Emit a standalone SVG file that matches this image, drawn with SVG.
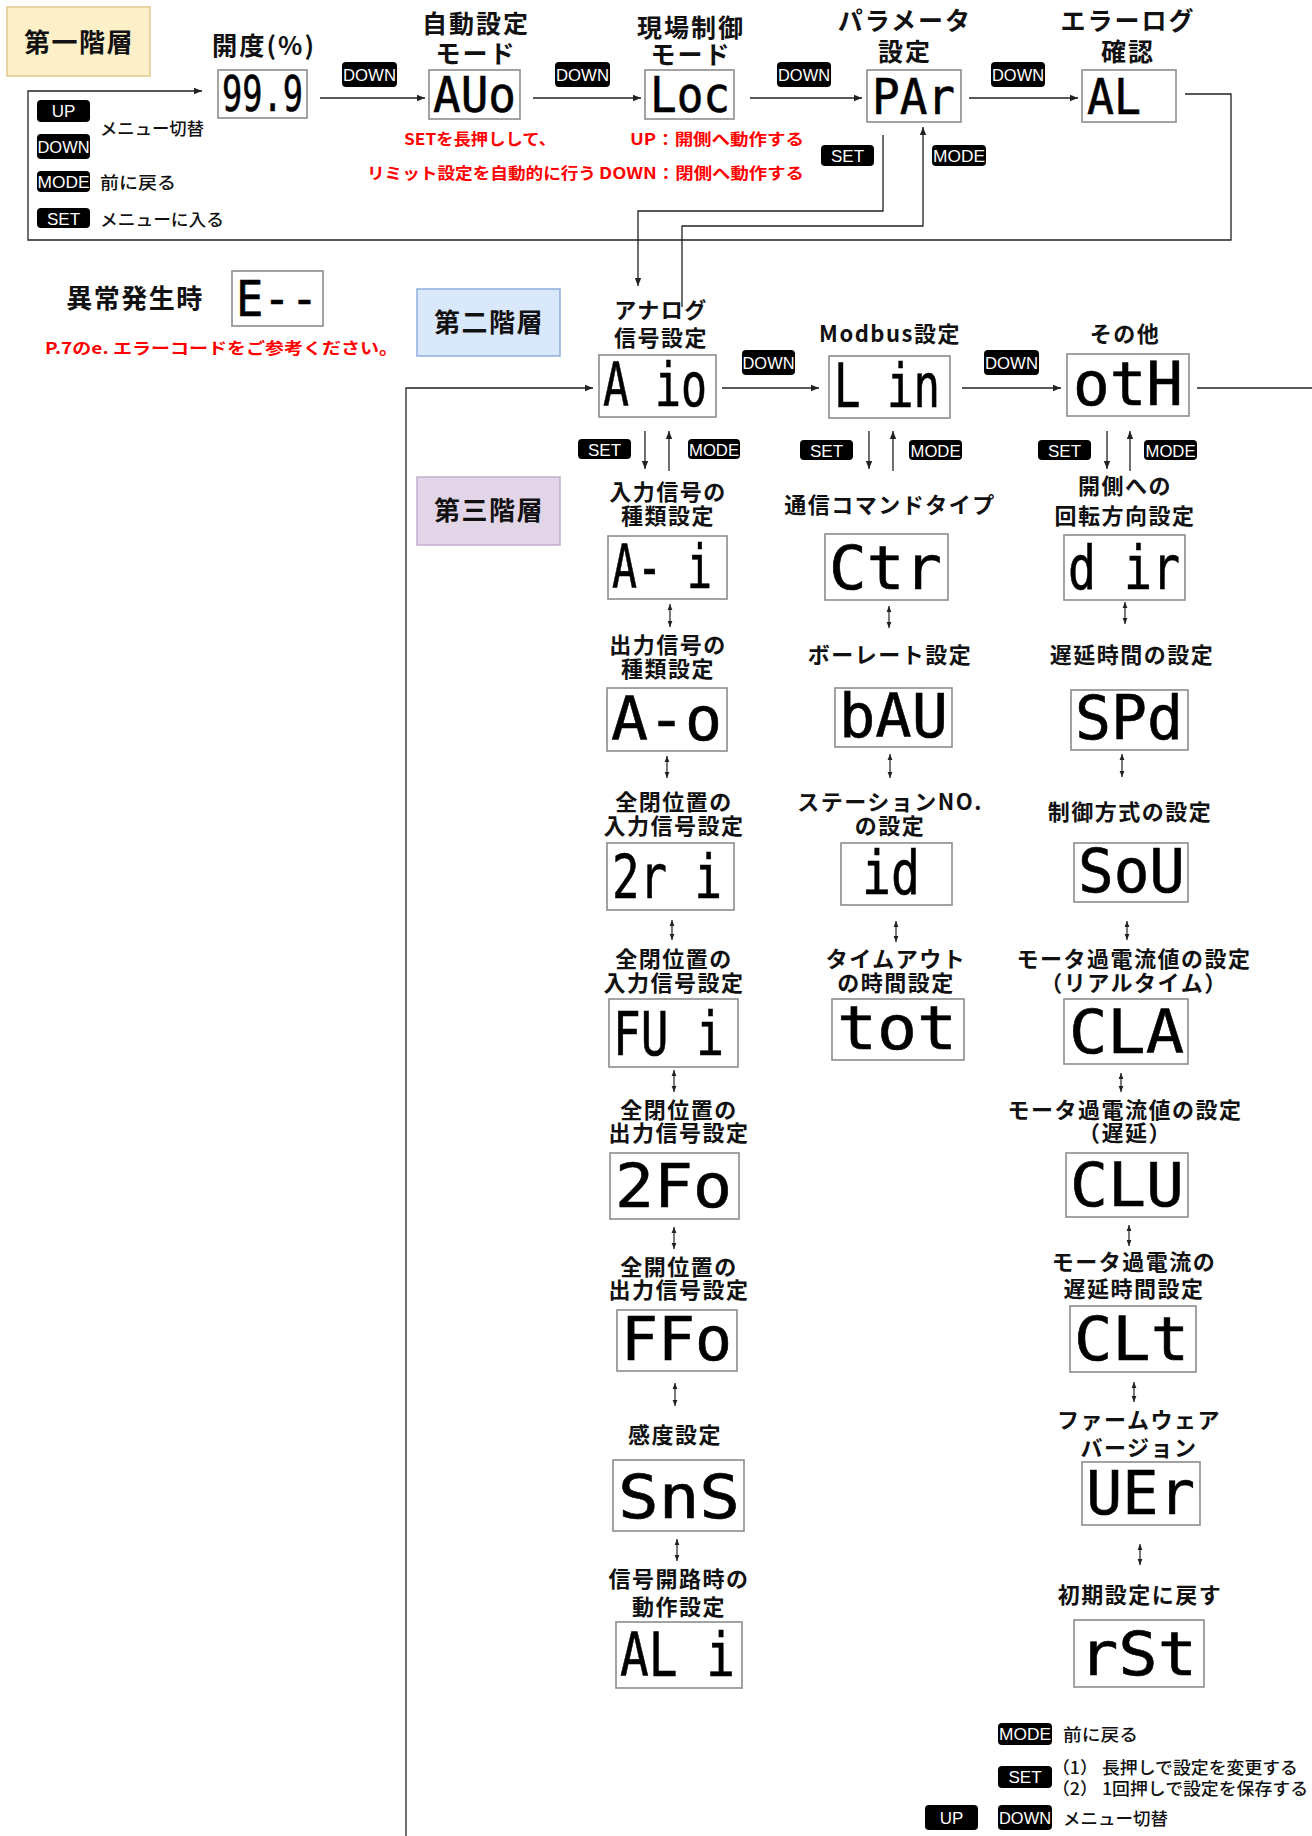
<svg xmlns="http://www.w3.org/2000/svg" width="1312" height="1836" viewBox="0 0 1312 1836">
<style>
.lbl{font-family:"Noto Sans CJK JP","Noto Sans",sans-serif;font-weight:700;font-size:22px;fill:#111;text-anchor:middle;letter-spacing:1.5px}
.top{font-size:25px;letter-spacing:2px}
.hdr{font-family:"Noto Sans CJK JP",sans-serif;font-weight:700;font-size:26px;fill:#111;text-anchor:middle;letter-spacing:1.5px}
.lcd{fill:#fff;stroke:#8c8c8c;stroke-width:1.6}
.seg{font-family:"DejaVu Sans Mono",monospace;font-weight:400;font-size:60px;fill:#000;stroke:#000;stroke-width:0.6}
.segs{font-size:50px}
.btn{fill:#000}
.bt{font-family:"Liberation Sans",Arial,sans-serif;font-size:17px;fill:#fff;text-anchor:middle}
.red{font-family:"Noto Sans CJK JP",sans-serif;font-weight:700;font-size:16px;fill:#ff0000}
.leg{font-family:"Noto Sans CJK JP",sans-serif;font-weight:500;font-size:17px;fill:#111}
.ln{fill:none;stroke:#222;stroke-width:1.3}
.dbl{fill:none;stroke:#222;stroke-width:1.2}
</style>
<defs>
<marker id="ah" viewBox="0 0 10 10" refX="10" refY="5" markerWidth="9" markerHeight="8" markerUnits="userSpaceOnUse" orient="auto-start-reverse"><path d="M0,1 L10,5 L0,9 z" fill="#222"/></marker>
<marker id="ah2" viewBox="0 0 10 10" refX="10" refY="5" markerWidth="6" markerHeight="6" markerUnits="userSpaceOnUse" orient="auto-start-reverse"><path d="M0,1 L10,5 L0,9 z" fill="#222"/></marker>
</defs>
<rect width="1312" height="1836" fill="#fff"/>

<!-- level headers -->
<g id="hdr1"><rect x="7" y="7" width="143" height="69" fill="#fdf0c9" stroke="#e3c88e" stroke-width="1.5"/><text class="hdr" x="79" y="52">第一階層</text></g>
<g id="hdr2"><rect x="417" y="289" width="143" height="67" fill="#dae8fc" stroke="#8faedc" stroke-width="1.5"/><text class="hdr" x="489" y="332">第二階層</text></g>
<g id="hdr3"><rect x="417" y="477" width="143" height="68" fill="#e3d5e8" stroke="#c2aed0" stroke-width="1.5"/><text class="hdr" x="489" y="520">第三階層</text></g>

<!-- connectors -->
<g id="connectors">
<path class="ln" d="M1185,94 H1231 V240 H28 V91 H202" marker-end="url(#ah)"/>
<path class="ln" d="M320,98 H425" marker-end="url(#ah)"/>
<path class="ln" d="M533,98 H641" marker-end="url(#ah)"/>
<path class="ln" d="M750,98 H862" marker-end="url(#ah)"/>
<path class="ln" d="M969,98 H1078" marker-end="url(#ah)"/>
<path class="ln" d="M883,135 V211 H638 V286" marker-end="url(#ah)"/>
<path class="ln" d="M682,307 V226 H923 V127" marker-end="url(#ah)"/>
<path class="ln" d="M406,1836 V388 H593" marker-end="url(#ah)"/>
<path class="ln" d="M722,388 H819" marker-end="url(#ah)"/>
<path class="ln" d="M962,388 H1061" marker-end="url(#ah)"/>
<path class="ln" d="M1197,388 H1312"/>
<path class="ln" d="M645,431 V469" marker-end="url(#ah)"/>
<path class="ln" d="M669,471 V431" marker-end="url(#ah)"/>
<path class="ln" d="M869,431 V469" marker-end="url(#ah)"/>
<path class="ln" d="M893,471 V431" marker-end="url(#ah)"/>
<path class="ln" d="M1107,431 V469" marker-end="url(#ah)"/>
<path class="ln" d="M1130,471 V431" marker-end="url(#ah)"/>
<path class="dbl" d="M670,604 V627" marker-start="url(#ah2)" marker-end="url(#ah2)"/>
<path class="dbl" d="M667,756 V778" marker-start="url(#ah2)" marker-end="url(#ah2)"/>
<path class="dbl" d="M672,920 V940" marker-start="url(#ah2)" marker-end="url(#ah2)"/>
<path class="dbl" d="M674,1070 V1092" marker-start="url(#ah2)" marker-end="url(#ah2)"/>
<path class="dbl" d="M674,1227 V1249" marker-start="url(#ah2)" marker-end="url(#ah2)"/>
<path class="dbl" d="M675,1383 V1406" marker-start="url(#ah2)" marker-end="url(#ah2)"/>
<path class="dbl" d="M677,1539 V1561" marker-start="url(#ah2)" marker-end="url(#ah2)"/>
<path class="dbl" d="M889,606 V628" marker-start="url(#ah2)" marker-end="url(#ah2)"/>
<path class="dbl" d="M890,754 V778" marker-start="url(#ah2)" marker-end="url(#ah2)"/>
<path class="dbl" d="M896,921 V942" marker-start="url(#ah2)" marker-end="url(#ah2)"/>
<path class="dbl" d="M1125,602 V624" marker-start="url(#ah2)" marker-end="url(#ah2)"/>
<path class="dbl" d="M1122,754 V777" marker-start="url(#ah2)" marker-end="url(#ah2)"/>
<path class="dbl" d="M1127,921 V940" marker-start="url(#ah2)" marker-end="url(#ah2)"/>
<path class="dbl" d="M1121,1073 V1092" marker-start="url(#ah2)" marker-end="url(#ah2)"/>
<path class="dbl" d="M1129,1225 V1246" marker-start="url(#ah2)" marker-end="url(#ah2)"/>
<path class="dbl" d="M1134,1382 V1402" marker-start="url(#ah2)" marker-end="url(#ah2)"/>
<path class="dbl" d="M1140,1544 V1565" marker-start="url(#ah2)" marker-end="url(#ah2)"/>
</g>

<!-- button labels -->
<g id="buttons">
<rect class="btn" x="342" y="62" width="55" height="25" rx="4"/><text class="bt" x="369.5" y="81" textLength="53" lengthAdjust="spacingAndGlyphs">DOWN</text>
<rect class="btn" x="555" y="62" width="55" height="25" rx="4"/><text class="bt" x="582.5" y="81" textLength="53" lengthAdjust="spacingAndGlyphs">DOWN</text>
<rect class="btn" x="777" y="62" width="54" height="25" rx="4"/><text class="bt" x="804" y="81" textLength="52" lengthAdjust="spacingAndGlyphs">DOWN</text>
<rect class="btn" x="991" y="62" width="54" height="25" rx="4"/><text class="bt" x="1018" y="81" textLength="52" lengthAdjust="spacingAndGlyphs">DOWN</text>
<rect class="btn" x="821" y="145" width="53" height="21" rx="4"/><text class="bt" x="847.5" y="162">SET</text>
<rect class="btn" x="932" y="145" width="54" height="21" rx="4"/><text class="bt" x="959" y="162" textLength="52" lengthAdjust="spacingAndGlyphs">MODE</text>
<rect class="btn" x="742" y="350" width="53" height="25" rx="4"/><text class="bt" x="768.5" y="369" textLength="52" lengthAdjust="spacingAndGlyphs">DOWN</text>
<rect class="btn" x="984" y="350" width="55" height="25" rx="4"/><text class="bt" x="1011.5" y="369" textLength="53" lengthAdjust="spacingAndGlyphs">DOWN</text>
<rect class="btn" x="578" y="439" width="53" height="20" rx="4"/><text class="bt" x="604.5" y="455.5">SET</text>
<rect class="btn" x="688" y="439" width="52" height="20" rx="4"/><text class="bt" x="714" y="455.5" textLength="50" lengthAdjust="spacingAndGlyphs">MODE</text>
<rect class="btn" x="800" y="440" width="53" height="20" rx="4"/><text class="bt" x="826.5" y="456.5">SET</text>
<rect class="btn" x="909" y="440" width="53" height="20" rx="4"/><text class="bt" x="935.5" y="456.5" textLength="50" lengthAdjust="spacingAndGlyphs">MODE</text>
<rect class="btn" x="1038" y="440" width="53" height="20" rx="4"/><text class="bt" x="1064.5" y="456.5">SET</text>
<rect class="btn" x="1144" y="440" width="53" height="20" rx="4"/><text class="bt" x="1170.5" y="456.5" textLength="50" lengthAdjust="spacingAndGlyphs">MODE</text>
</g>

<!-- legend top -->
<g id="legend1">
<rect class="btn" x="37" y="100" width="53" height="22" rx="4"/><text class="bt" x="63.5" y="117">UP</text>
<rect class="btn" x="37" y="134" width="53" height="25" rx="4"/><text class="bt" x="63.5" y="153" textLength="52" lengthAdjust="spacingAndGlyphs">DOWN</text>
<text class="leg" x="100" y="135" textLength="104" lengthAdjust="spacingAndGlyphs">メニュー切替</text>
<rect class="btn" x="37" y="171" width="53" height="21" rx="4"/><text class="bt" x="63.5" y="188" textLength="52" lengthAdjust="spacingAndGlyphs">MODE</text>
<text class="leg" x="100" y="189" textLength="76" lengthAdjust="spacingAndGlyphs">前に戻る</text>
<rect class="btn" x="37" y="208" width="53" height="20" rx="4"/><text class="bt" x="63.5" y="224.5">SET</text>
<text class="leg" x="100" y="226" textLength="124" lengthAdjust="spacingAndGlyphs">メニューに入る</text>
</g>

<!-- level 1 nodes -->
<g id="n_open">
<text class="lbl top" x="264" y="55" textLength="104" lengthAdjust="spacingAndGlyphs">開度(%)</text>
<rect class="lcd" x="218" y="70" width="89" height="48"/>
<text class="seg segs" x="222" y="111" textLength="81" lengthAdjust="spacingAndGlyphs">99.9</text>
</g>
<g id="n_auo">
<text class="lbl top" x="476"><tspan x="476" y="33">自動設定</tspan><tspan x="476" y="63">モード</tspan></text>
<rect class="lcd" x="429" y="70" width="91" height="49"/>
<text class="seg segs" x="433" y="112" textLength="83" lengthAdjust="spacingAndGlyphs">AUo</text>
<text class="red" x="480" y="145" text-anchor="middle" textLength="152" lengthAdjust="spacingAndGlyphs">SETを長押しして、</text>
<text class="red" x="367" y="179" textLength="229" lengthAdjust="spacingAndGlyphs">リミット設定を自動的に行う</text>
</g>
<g id="n_loc">
<text class="lbl top" x="691"><tspan x="691" y="37">現場制御</tspan><tspan x="691" y="64">モード</tspan></text>
<rect class="lcd" x="645" y="70" width="89" height="49"/>
<text class="seg segs" x="650" y="112" textLength="80" lengthAdjust="spacingAndGlyphs">Loc</text>
<text class="red" x="804" y="145" text-anchor="end" textLength="174" lengthAdjust="spacingAndGlyphs">UP：開側へ動作する</text>
<text class="red" x="804" y="179" text-anchor="end" textLength="205" lengthAdjust="spacingAndGlyphs">DOWN：閉側へ動作する</text>
</g>
<g id="n_par">
<text class="lbl top" x="905"><tspan x="905" y="30">パラメータ</tspan><tspan x="905" y="61">設定</tspan></text>
<rect class="lcd" x="867" y="70" width="94" height="52"/>
<text class="seg segs" x="872" y="114" textLength="83" lengthAdjust="spacingAndGlyphs">PAr</text>
</g>
<g id="n_al">
<text class="lbl top" x="1128"><tspan x="1128" y="30">エラーログ</tspan><tspan x="1128" y="61">確認</tspan></text>
<rect class="lcd" x="1082" y="70" width="94" height="52"/>
<text class="seg segs" x="1087" y="114" textLength="54" lengthAdjust="spacingAndGlyphs">AL</text>
</g>

<!-- error -->
<g id="n_err">
<text class="hdr" x="135" y="308" letter-spacing="2">異常発生時</text>
<rect class="lcd" x="232" y="271" width="91" height="55"/>
<text class="seg segs" x="236" y="316" textLength="82" lengthAdjust="spacingAndGlyphs">E--</text>
<text class="red" x="45" y="354" font-size="17" textLength="353" lengthAdjust="spacingAndGlyphs">P.7のe. エラーコードをご参考ください。</text>
</g>

<!-- level 2 nodes -->
<g id="n_aio">
<text class="lbl" x="661"><tspan x="661" y="318">アナログ</tspan><tspan x="661" y="346">信号設定</tspan></text>
<rect class="lcd" x="599" y="355" width="117" height="62"/>
<text class="seg" x="603" y="406" textLength="104" lengthAdjust="spacingAndGlyphs">A io</text>
</g>
<g id="n_lin">
<text class="lbl" x="890" y="342">Modbus設定</text>
<rect class="lcd" x="829" y="356" width="121" height="62"/>
<text class="seg" x="834" y="407" textLength="106" lengthAdjust="spacingAndGlyphs">L in</text>
</g>
<g id="n_oth">
<text class="lbl" x="1125" y="342">その他</text>
<rect class="lcd" x="1067" y="354" width="122" height="62"/>
<text class="seg" x="1073" y="405" textLength="110" lengthAdjust="spacingAndGlyphs">otH</text>
</g>

<!-- level 3 column 1 -->
<g id="n_ai">
<text class="lbl" x="668"><tspan x="668" y="500">入力信号の</tspan><tspan x="668" y="524">種類設定</tspan></text>
<rect class="lcd" x="608" y="536" width="119" height="63"/>
<text class="seg" x="612" y="588" textLength="100" lengthAdjust="spacingAndGlyphs">A- i</text>
</g>
<g id="n_ao">
<text class="lbl" x="668"><tspan x="668" y="653">出力信号の</tspan><tspan x="668" y="677">種類設定</tspan></text>
<rect class="lcd" x="607" y="688" width="120" height="63"/>
<text class="seg" x="611" y="740" textLength="111" lengthAdjust="spacingAndGlyphs">A-o</text>
</g>
<g id="n_2ri">
<text class="lbl" x="674"><tspan x="674" y="810">全閉位置の</tspan><tspan x="674" y="834">入力信号設定</tspan></text>
<rect class="lcd" x="607" y="843" width="127" height="67"/>
<text class="seg" x="612" y="898" textLength="110" lengthAdjust="spacingAndGlyphs">2r i</text>
</g>
<g id="n_fui">
<text class="lbl" x="674"><tspan x="674" y="967">全閉位置の</tspan><tspan x="674" y="991">入力信号設定</tspan></text>
<rect class="lcd" x="609" y="999" width="129" height="68"/>
<text class="seg" x="613" y="1055" textLength="111" lengthAdjust="spacingAndGlyphs">FU i</text>
</g>
<g id="n_2fo">
<text class="lbl" x="679"><tspan x="679" y="1118">全閉位置の</tspan><tspan x="679" y="1141">出力信号設定</tspan></text>
<rect class="lcd" x="610" y="1153" width="129" height="66"/>
<text class="seg" x="615" y="1207" textLength="117" lengthAdjust="spacingAndGlyphs">2Fo</text>
</g>
<g id="n_ffo">
<text class="lbl" x="679"><tspan x="679" y="1275">全開位置の</tspan><tspan x="679" y="1298">出力信号設定</tspan></text>
<rect class="lcd" x="617" y="1310" width="120" height="61"/>
<text class="seg" x="621" y="1360" textLength="111" lengthAdjust="spacingAndGlyphs">FFo</text>
</g>
<g id="n_sns">
<text class="lbl" x="675" y="1443">感度設定</text>
<rect class="lcd" x="613" y="1460" width="131" height="71"/>
<text class="seg" x="618" y="1518" textLength="122" lengthAdjust="spacingAndGlyphs">SnS</text>
</g>
<g id="n_ali">
<text class="lbl" x="679"><tspan x="679" y="1587">信号開路時の</tspan><tspan x="679" y="1615">動作設定</tspan></text>
<rect class="lcd" x="616" y="1622" width="126" height="66"/>
<text class="seg" x="620" y="1676" textLength="115" lengthAdjust="spacingAndGlyphs">AL i</text>
</g>

<!-- level 3 column 2 -->
<g id="n_ctr">
<text class="lbl" x="890" y="513" letter-spacing="0.5">通信コマンドタイプ</text>
<rect class="lcd" x="825" y="534" width="123" height="66"/>
<text class="seg" x="829" y="589" textLength="113" lengthAdjust="spacingAndGlyphs">Ctr</text>
</g>
<g id="n_bau">
<text class="lbl" x="890" y="663" letter-spacing="0.5">ボーレート設定</text>
<rect class="lcd" x="835" y="688" width="117" height="59"/>
<text class="seg" x="839" y="737" textLength="109" lengthAdjust="spacingAndGlyphs">bAU</text>
</g>
<g id="n_id">
<text class="lbl" x="890" letter-spacing="0.5"><tspan x="890" y="810">ステーションNO.</tspan><tspan x="890" y="834">の設定</tspan></text>
<rect class="lcd" x="841" y="843" width="111" height="62"/>
<text class="seg" x="862" y="894" textLength="58" lengthAdjust="spacingAndGlyphs">id</text>
</g>
<g id="n_tot">
<text class="lbl" x="896" letter-spacing="0.5"><tspan x="896" y="967">タイムアウト</tspan><tspan x="896" y="991">の時間設定</tspan></text>
<rect class="lcd" x="832" y="999" width="132" height="61"/>
<text class="seg" x="837" y="1049" textLength="120" lengthAdjust="spacingAndGlyphs">tot</text>
</g>

<!-- level 3 column 3 -->
<g id="n_dir">
<text class="lbl" x="1125"><tspan x="1125" y="494">開側への</tspan><tspan x="1125" y="524">回転方向設定</tspan></text>
<rect class="lcd" x="1064" y="535" width="121" height="65"/>
<text class="seg" x="1068" y="589" textLength="112" lengthAdjust="spacingAndGlyphs">d ir</text>
</g>
<g id="n_spd">
<text class="lbl" x="1132" y="663">遅延時間の設定</text>
<rect class="lcd" x="1071" y="690" width="117" height="60"/>
<text class="seg" x="1075" y="739" textLength="108" lengthAdjust="spacingAndGlyphs">SPd</text>
</g>
<g id="n_sou">
<text class="lbl" x="1130" y="820">制御方式の設定</text>
<rect class="lcd" x="1074" y="843" width="114" height="59"/>
<text class="seg" x="1078" y="892" textLength="107" lengthAdjust="spacingAndGlyphs">SoU</text>
</g>
<g id="n_cla">
<text class="lbl" x="1134" letter-spacing="0.5"><tspan x="1134" y="967">モータ過電流値の設定</tspan><tspan x="1134" y="991">（リアルタイム）</tspan></text>
<rect class="lcd" x="1064" y="999" width="124" height="65"/>
<text class="seg" x="1069" y="1053" textLength="115" lengthAdjust="spacingAndGlyphs">CLA</text>
</g>
<g id="n_clu">
<text class="lbl" x="1125" letter-spacing="0.5"><tspan x="1125" y="1118">モータ過電流値の設定</tspan><tspan x="1125" y="1141">（遅延）</tspan></text>
<rect class="lcd" x="1066" y="1153" width="122" height="64"/>
<text class="seg" x="1070" y="1206" textLength="114" lengthAdjust="spacingAndGlyphs">CLU</text>
</g>
<g id="n_clt">
<text class="lbl" x="1134" letter-spacing="0.5"><tspan x="1134" y="1270">モータ過電流の</tspan><tspan x="1134" y="1297">遅延時間設定</tspan></text>
<rect class="lcd" x="1070" y="1306" width="126" height="66"/>
<text class="seg" x="1074" y="1360" textLength="115" lengthAdjust="spacingAndGlyphs">CLt</text>
</g>
<g id="n_uer">
<text class="lbl" x="1139" letter-spacing="0.5"><tspan x="1139" y="1428">ファームウェア</tspan><tspan x="1139" y="1456">バージョン</tspan></text>
<rect class="lcd" x="1082" y="1462" width="118" height="63"/>
<text class="seg" x="1086" y="1514" textLength="109" lengthAdjust="spacingAndGlyphs">UEr</text>
</g>
<g id="n_rst">
<text class="lbl" x="1140" y="1603">初期設定に戻す</text>
<rect class="lcd" x="1074" y="1620" width="130" height="67"/>
<text class="seg" x="1079" y="1675" textLength="118" lengthAdjust="spacingAndGlyphs">rSt</text>
</g>

<!-- legend bottom -->
<g id="legend2">
<rect class="btn" x="998" y="1723" width="54" height="22" rx="4"/><text class="bt" x="1025" y="1740" textLength="52" lengthAdjust="spacingAndGlyphs">MODE</text>
<text class="leg" x="1063" y="1741" textLength="75" lengthAdjust="spacingAndGlyphs">前に戻る</text>
<rect class="btn" x="998" y="1766" width="54" height="22" rx="4"/><text class="bt" x="1025" y="1783">SET</text>
<text class="leg" font-size="16"><tspan x="1052" y="1774" textLength="246" lengthAdjust="spacingAndGlyphs">（1） 長押しで設定を変更する</tspan><tspan x="1052" y="1795" textLength="256" lengthAdjust="spacingAndGlyphs">（2） 1回押しで設定を保存する</tspan></text>
<rect class="btn" x="925" y="1805" width="53" height="25" rx="4"/><text class="bt" x="951.5" y="1824">UP</text>
<rect class="btn" x="998" y="1805" width="54" height="25" rx="4"/><text class="bt" x="1025" y="1824" textLength="52" lengthAdjust="spacingAndGlyphs">DOWN</text>
<text class="leg" x="1063" y="1825" textLength="105" lengthAdjust="spacingAndGlyphs">メニュー切替</text>
</g>
</svg>
